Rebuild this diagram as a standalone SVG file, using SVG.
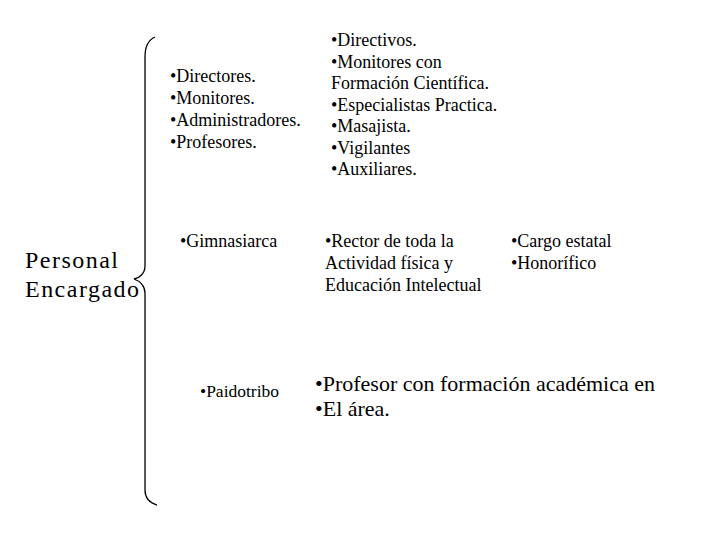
<svg xmlns="http://www.w3.org/2000/svg" width="720" height="540" viewBox="0 0 720 540">
<style>
text { font-family: 'Liberation Serif', 'Times New Roman', serif; fill: #000; }
.s { font-size: 18px; }
.p { font-size: 17.5px; }
.m { font-size: 22px; }
.l { font-size: 24px; }
.brace { fill: none; stroke: #000; stroke-width: 1.3; }
</style>
<rect width="720" height="540" fill="#fff"/>
<g id="connectors">
<path class="brace" d="M155,37 C148,40 145,47 145,57 L145,266 C145,273 140,278 134,279 C140,281 145,286 145,293 L145,490 C145,498 150,503 157,505"/>
</g>
<g id="personal">
<text class="l" x="25" y="268" textLength="93" lengthAdjust="spacing">Personal</text>
<text class="l" x="25" y="297" textLength="114" lengthAdjust="spacing">Encargado</text>
</g>
<g id="cargos">
<text class="s" x="170" y="82">•Directores.</text>
<text class="s" x="170" y="104">•Monitores.</text>
<text class="s" x="170" y="126">•Administradores.</text>
<text class="s" x="170" y="148">•Profesores.</text>
</g>
<g id="personal-detalle">
<text class="s" x="331" y="46">•Directivos.</text>
<text class="s" x="331" y="68">•Monitores con</text>
<text class="s" x="331" y="89">Formación Científica.</text>
<text class="s" x="331" y="111">•Especialistas Practica.</text>
<text class="s" x="331" y="132">•Masajista.</text>
<text class="s" x="331" y="154">•Vigilantes</text>
<text class="s" x="331" y="175">•Auxiliares.</text>
</g>
<g id="gimnasiarca">
<text class="s" x="180" y="247">•Gimnasiarca</text>
</g>
<g id="rector">
<text class="s" x="325" y="247">•Rector de toda la</text>
<text class="s" x="325" y="269">Actividad física y</text>
<text class="s" x="325" y="291">Educación Intelectual</text>
</g>
<g id="cargo">
<text class="s" x="511" y="247">•Cargo estatal</text>
<text class="s" x="511" y="269">•Honorífico</text>
</g>
<g id="paidotribo">
<text class="p" x="200" y="397">•Paidotribo</text>
</g>
<g id="profesor">
<text class="m" x="315" y="391">•Profesor con formación académica en</text>
<text class="m" x="315" y="416">•El área.</text>
</g>
</svg>
